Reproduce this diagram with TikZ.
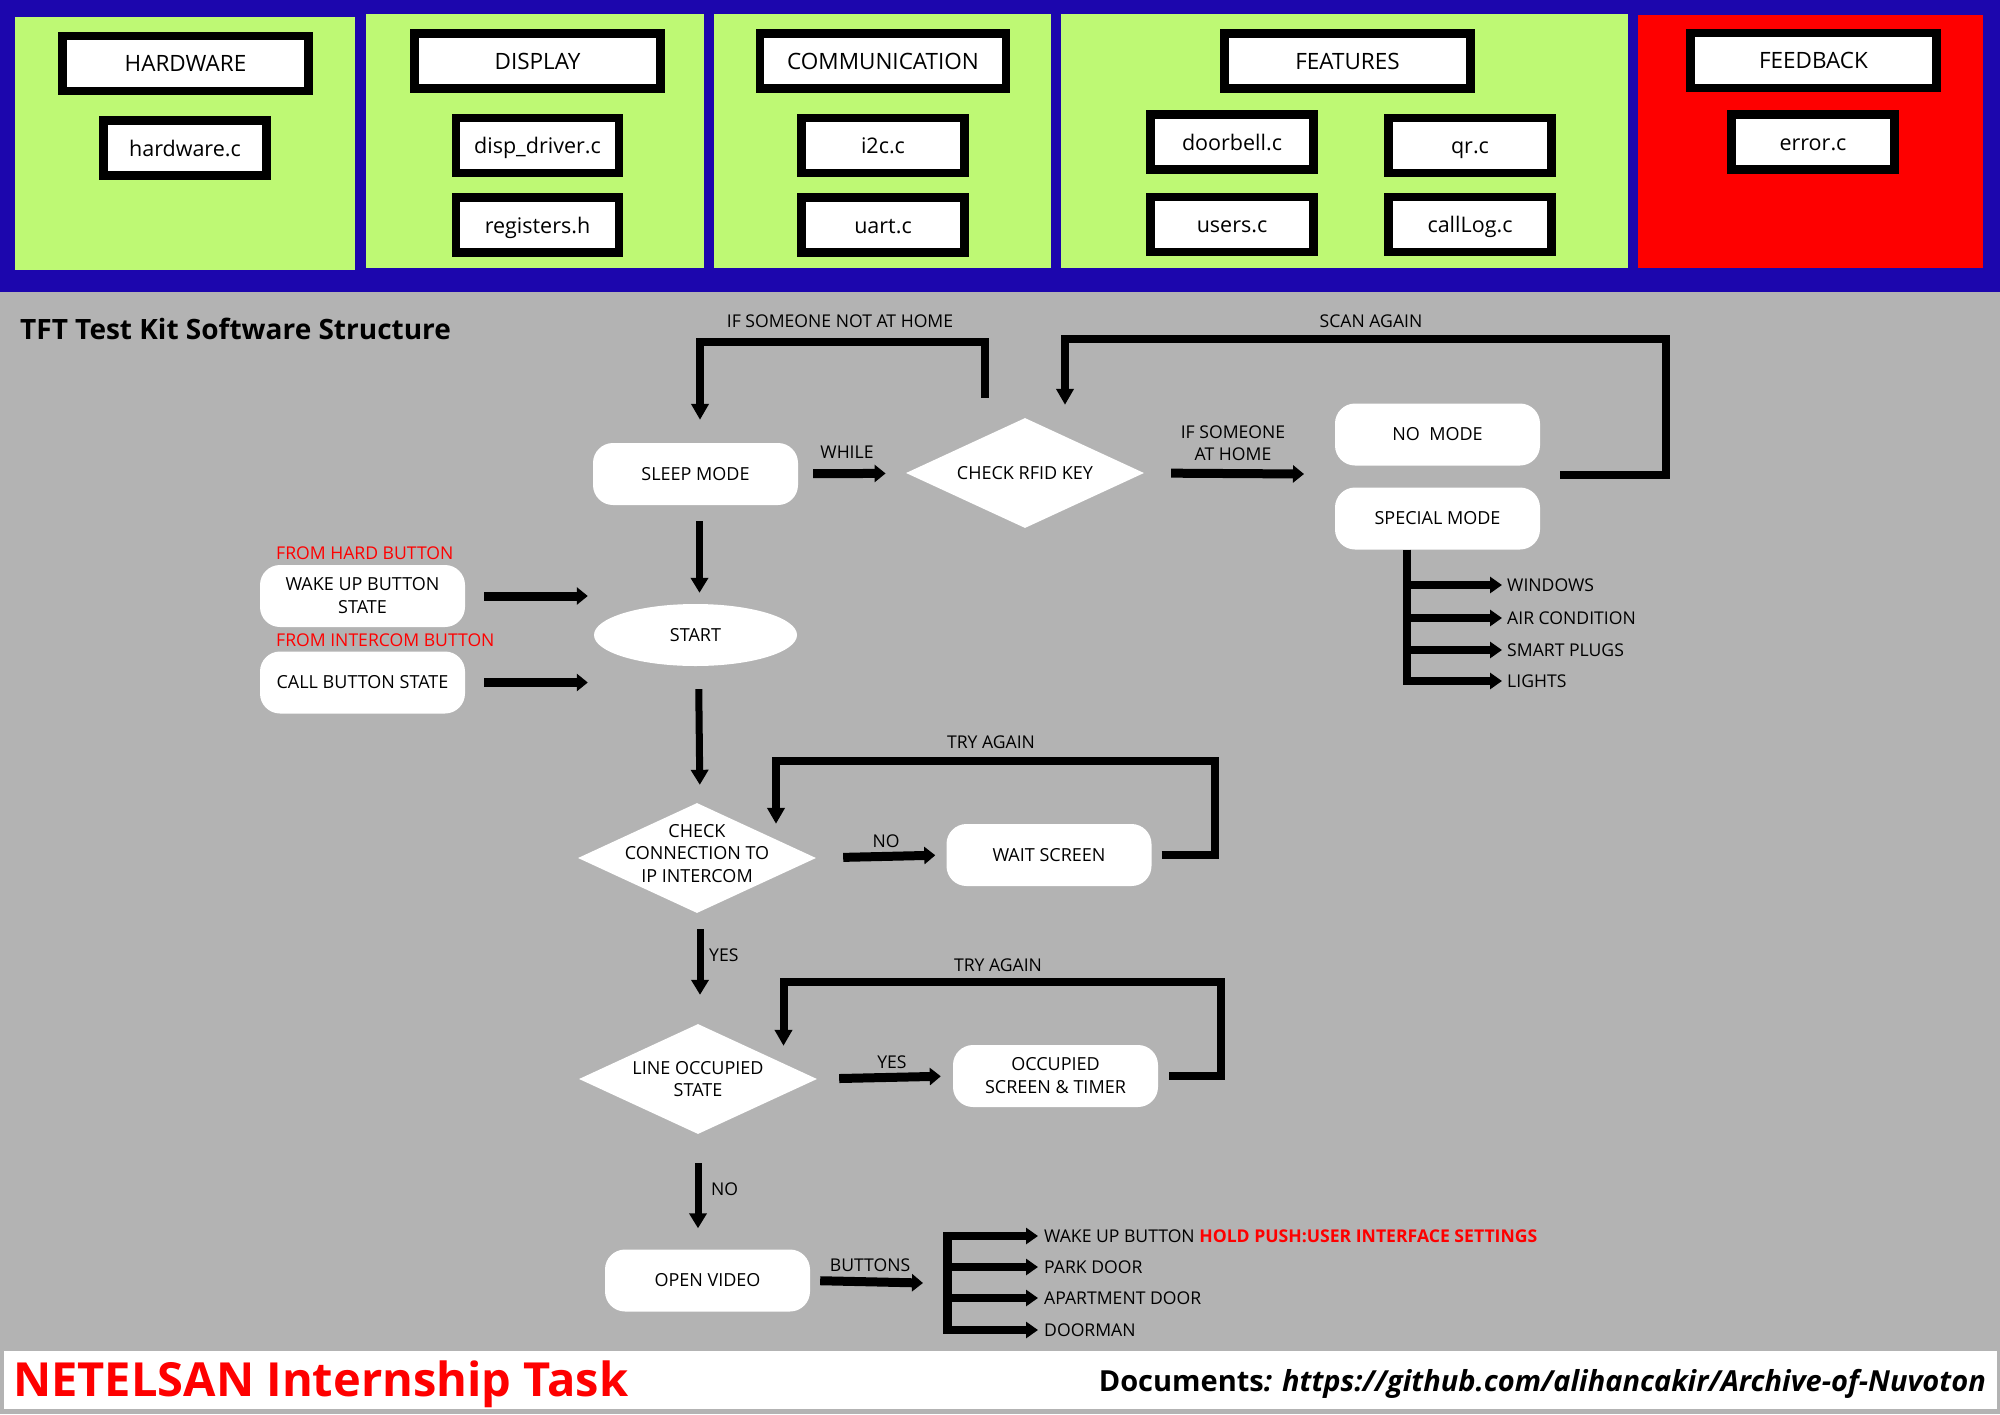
\documentclass[tikz,border=0pt]{standalone}
\usepackage{fontspec}
\setmainfont{Open Sans}
\usetikzlibrary{arrows.meta,shapes.geometric}
\definecolor{bandblue}{HTML}{1C06AD}
\definecolor{panelgreen}{HTML}{BEF974}
\definecolor{panelred}{HTML}{FE0000}
\definecolor{boardgray}{HTML}{B3B3B3}
\tikzset{
	titlebox/.style={draw=black,line width=8.5pt,fill=white,minimum width=246pt,minimum height=55pt,
			inner sep=0pt,text height=16pt,text depth=0pt,font=\fontsize{22.5}{26}\selectfont},
	filebox/.style={titlebox,minimum width=163pt,font=\fontsize{21.5}{26}\selectfont},
	state/.style={fill=white,rounded corners=20pt,minimum width=205pt,minimum height=62pt,
			inner sep=0pt,align=center,font=\fontsize{18}{23}\selectfont},
	startstate/.style={ellipse,fill=white,minimum width=203pt,minimum height=62pt,inner sep=0pt,
			font=\fontsize{18}{23}\selectfont},
	decision/.style={diamond,fill=white,minimum width=238pt,minimum height=110pt,inner xsep=0pt,
			inner ysep=-16pt,aspect=2.16,align=center,font=\fontsize{18}{22.5}\selectfont},
	lbl/.style={inner sep=0pt,align=center,font=\fontsize{17.6}{22.5}\selectfont},
	flow/.style={line width=9pt,-{Triangle[length=11pt,width=17pt]}},
	vflow/.style={line width=7pt,-{Triangle[length=15pt,width=17pt]}},
	loopflow/.style={line width=8pt,-{Triangle[length=16pt,width=17pt]}},
	branch/.style={line width=8pt,-{Triangle[length=12pt,width=16pt]}}
}

\begin{document}
\begin{tikzpicture}[x=1pt,y=-1pt]
        \useasboundingbox (0,0) rectangle (2000,1414);
        \fill[boardgray] (0,0) rectangle (2000,1414);
        \fill[bandblue] (0,0) rectangle (2000,292);
        \fill[panelgreen] (15,17) rectangle (355,270);
        \fill[panelgreen] (366,14) rectangle (704,268);
        \fill[panelgreen] (714,14) rectangle (1051,268);
        \fill[panelgreen] (1061,14) rectangle (1628,268);
        \fill[panelred] (1638,15) rectangle (1983,268);
        \node[titlebox] (hardware_title) at (185.5,63.5) {HARDWARE};
        \node[filebox] (hardware_c) at (185,148) {hardware.c};
        \node[titlebox] (display_title) at (537.5,61) {DISPLAY};
        \node[filebox] (disp_driver_c) at (537.5,145.5) {disp\_driver.c};
        \node[filebox] (registers_h) at (537.5,225) {registers.h};
        \node[titlebox] (comm_title) at (883,61) {COMMUNICATION};
        \node[filebox] (i2c_c) at (883,145.5) {i2c.c};
        \node[filebox] (uart_c) at (883,225) {uart.c};
        \node[titlebox] (features_title) at (1347.5,61) {FEATURES};
        \node[filebox] (doorbell_c) at (1232,142) {doorbell.c};
        \node[filebox] (qr_c) at (1470,145.5) {qr.c};
        \node[filebox] (users_c) at (1232,224.5) {users.c};
        \node[filebox] (calllog_c) at (1470,224.5) {callLog.c};
        \node[titlebox] (feedback_title) at (1813.5,60.5) {FEEDBACK};
        \node[filebox] (error_c) at (1813,142) {error.c};
        \node[anchor=base west,inner sep=0pt,font=\bfseries\fontsize{28}{28}\selectfont] (kit_title) at (20,339) {TFT Test Kit Software Structure};
        \node[state] (sleep_mode) at (695.5,474) {SLEEP MODE};
        \node[decision] (check_rfid) at (1025,473) {CHECK RFID KEY};
        \node[state] (no_mode) at (1437.5,434.5) {NO~ MODE};
        \node[state] (special_mode) at (1437.5,518.5) {SPECIAL MODE};
        \node[startstate] (start) at (695.5,635) {START};
        \node[state] (wake_btn) at (362.5,596) {WAKE UP BUTTON\\STATE};
        \node[state] (call_btn) at (362.5,682.5) {CALL BUTTON STATE};
        \node[decision,text depth=10pt] (check_conn) at (697,858) {CHECK\\CONNECTION TO\\IP INTERCOM};
        \node[state] (wait_screen) at (1049,855) {WAIT SCREEN};
        \node[decision] (line_occ) at (698,1079) {LINE OCCUPIED\\STATE};
        \node[state] (occupied) at (1055.5,1076) {OCCUPIED\\SCREEN \& TIMER};
        \node[state] (open_video) at (707.5,1280.5) {OPEN VIDEO};
        \node[lbl] (home_lbl) at (840,321) {IF SOMEONE NOT AT HOME};
        \node[lbl] (while_lbl) at (847,452) {WHILE};
        \node[lbl] (scan_lbl) at (1371,321) {SCAN AGAIN};
        \node[lbl] (athome_lbl) at (1233,443) {IF SOMEONE\\AT HOME};
        \node[lbl,anchor=west,text=panelred] (hard_lbl) at (276,553.5) {FROM HARD BUTTON};
        \node[lbl,anchor=west,text=panelred] (intercom_lbl) at (276,640) {FROM INTERCOM BUTTON};
        \node[lbl] (try_lbl_1) at (991,742) {TRY AGAIN};
        \node[lbl] (no_lbl_1) at (886,841) {NO};
        \node[lbl,anchor=west] (yes_lbl_1) at (709,955) {YES};
        \node[lbl] (try_lbl_2) at (998,965) {TRY AGAIN};
        \node[lbl] (yes_lbl_2) at (892,1062) {YES};
        \node[lbl,anchor=west] (no_lbl_2) at (711,1189) {NO};
        \node[lbl] (buttons_lbl) at (870,1265) {BUTTONS};
        \coordinate (modes_in) at (1304,474);
        \coordinate (modes_out) at (1560,475);
        \coordinate (home_corner) at (700,342);
        \coordinate (scan_corner) at (1666,339);
        \coordinate (try_corner_1) at (1214.5,761);
        \coordinate (try_corner_2) at (1221,982);
        \coordinate (buttons_in) at (923,1283);
        \coordinate (buttons_top) at (947,1232);
        \coordinate (buttons_bottom) at (947,1334);
        \coordinate (special_bottom) at (1407,685);
        \draw[flow,shorten <=15pt,shorten >=21pt] (sleep_mode) -- (check_rfid);
        \draw[flow,shorten <=27pt] (check_rfid.east) -- (modes_in);
        \draw[loopflow] ([xshift=-40pt,yshift=20pt]check_rfid.north) |- (home_corner) -- ([xshift=4.5pt,yshift=23pt]sleep_mode.north);
        \draw[loopflow] (modes_out) -| (scan_corner) -| ([xshift=40pt,yshift=13pt]check_rfid.north);
        \draw[vflow,shorten <=16pt,shorten >=11pt] ([xshift=4pt]sleep_mode.south) -- ([xshift=4pt]start.north);
        \draw[flow] ([xshift=19pt]wake_btn.east) -- ([xshift=-6pt]wake_btn.east -| start.west);
        \draw[flow] ([xshift=19pt]call_btn.east) -- ([xshift=-6pt]call_btn.east -| start.west);
        \draw[vflow,shorten <=23pt,shorten >=18pt] ([xshift=3pt]start.south) -- ([xshift=3pt]check_conn.north);
        \draw[flow,shorten <=27pt,shorten >=11pt] (check_conn.east) -- (wait_screen.west);
        \draw[loopflow] ([xshift=10pt]wait_screen.east) -| (try_corner_1) -| ([xshift=79pt,yshift=-21pt]check_conn.north);
        \draw[vflow,shorten <=16pt,shorten >=29pt] ([xshift=3pt]check_conn.south) -- ([xshift=3pt]check_conn.south |- line_occ.north);
        \draw[flow,shorten <=22pt,shorten >=12pt] (line_occ.east) -- (occupied.west);
        \draw[loopflow] ([xshift=11pt]occupied.east) -| (try_corner_2) -| ([xshift=85.5pt,yshift=-22pt]line_occ.north);
        \draw[vflow,shorten <=29pt,shorten >=21pt] (line_occ.south) -- (line_occ.south |- open_video.north);
        \draw[flow,shorten <=10pt] (open_video.east) -- (buttons_in);
        \draw[line width=9pt] (buttons_top) -- (buttons_bottom);
        \foreach \y/\name/\txt in {1236/wake_up_lbl/{WAKE UP BUTTON \textcolor{panelred}{\bfseries HOLD PUSH:USER INTERFACE SETTINGS}},
                1267/park_lbl/PARK DOOR, 1298/apartment_lbl/APARTMENT DOOR, 1330/doorman_lbl/DOORMAN} {
                \node[lbl,anchor=west] (\name) at (1044,\y) {\txt};
                \draw[branch] (\name.west -| buttons_top) -- ([xshift=-6pt]\name.west);
        }
        \draw[line width=8pt] ([xshift=-30.5pt]special_mode.south) -- (special_bottom);
        \foreach \y/\name/\txt in {585/windows_lbl/WINDOWS, 618/aircon_lbl/AIR CONDITION, 650/plugs_lbl/SMART PLUGS, 681/lights_lbl/LIGHTS} {
                \node[lbl,anchor=west] (\name) at (1507,\y) {\txt};
                \draw[branch] (\name.west -| special_bottom) -- ([xshift=-5pt]\name.west);
        }
        \fill[white] (4,1351) rectangle (1997,1409);
        \node[anchor=base west,inner sep=0pt,text=panelred,font=\bfseries\fontsize{47}{47}\selectfont] (task_lbl) at (13,1396) {NETELSAN Internship Task};
        \node[anchor=base east,inner sep=0pt,font=\bfseries\fontsize{29}{29}\selectfont] (docs_lbl) at (1986,1391) {Documents\textit{: https://github.com/alihancakir/Archive-of-Nuvoton}};
    \end{tikzpicture}
\end{document}
